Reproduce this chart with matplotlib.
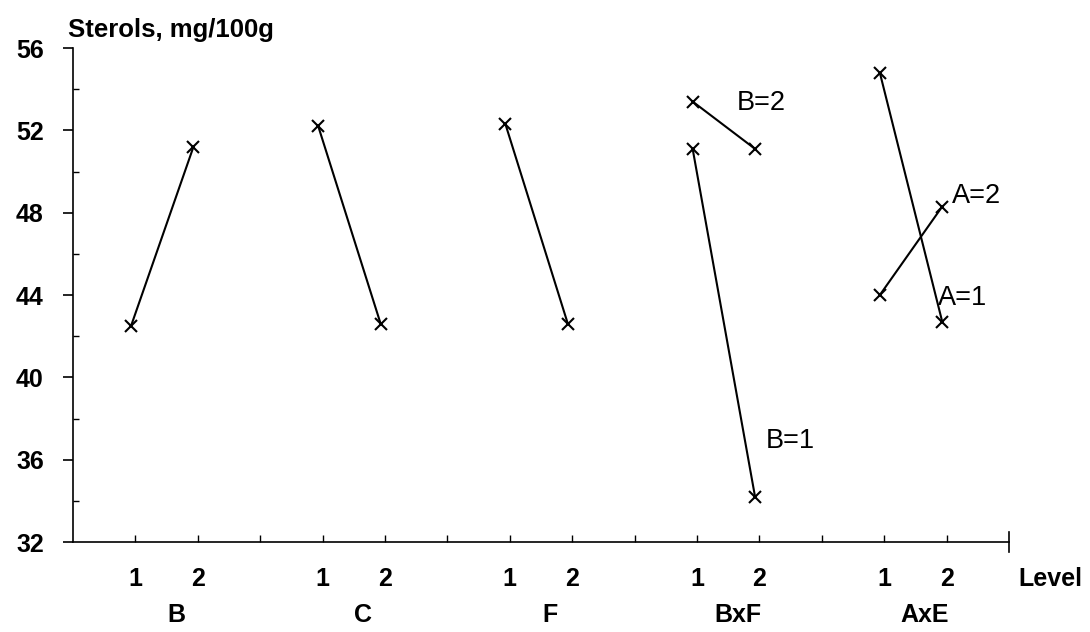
import matplotlib.pyplot as plt

# factor groups and their level means (Sterols, mg/100g)
groups = ['B', 'C', 'F', 'BxF', 'AxE']
levels = [1, 2]
b_vals = [42.5, 51.2]
c_vals = [52.2, 42.6]
f_vals = [52.3, 42.6]
bxf_b1 = [51.1, 34.2]
bxf_b2 = [53.4, 51.1]
axe_a1 = [54.8, 42.7]
axe_a2 = [44.0, 48.3]

plt.rcParams['font.family'] = ['Liberation Sans', 'DejaVu Sans']

fig = plt.figure(figsize=(10.9, 6.32), dpi=100)
ax = fig.add_axes([0.067, 0.1424, 0.8587, 0.7816])

step = 3      # group spacing on the x scale
shift = -0.07  # points sit a little left of the tick marks

def xs(gi):
    return [gi * step + lv + shift for lv in levels]

style = dict(color='black', lw=1.5, marker='x', ms=9, mew=1.5)
ax.plot(xs(0), b_vals, **style)
ax.plot(xs(1), c_vals, **style)
ax.plot(xs(2), f_vals, **style)
ax.plot(xs(3), bxf_b2, **style)
ax.plot(xs(3), bxf_b1, **style)
ax.plot(xs(4), axe_a1, **style)
ax.plot(xs(4), axe_a2, **style)

lab = dict(fontsize=19.5, va='center', ha='left')
ax.text(10.64, 53.35, 'B=2', **lab)
ax.text(11.1, 36.9, 'B=1', **lab)
ax.text(14.08, 48.8, 'A=2', **lab)
ax.text(13.86, 43.85, 'A=1', **lab)

ax.set_xlim(0, 15)
ax.set_ylim(32, 56)
for s in ['top', 'right']:
    ax.spines[s].set_visible(False)
ax.spines['left'].set_linewidth(1.2)
ax.spines['bottom'].set_linewidth(1.2)

# y axis
ax.set_yticks(range(32, 57, 4))
ax.set_yticks(range(34, 56, 4), minor=True)
ax.tick_params(axis='y', which='major', direction='out', length=7, width=1.2,
               pad=14, labelsize=18)
ax.tick_params(axis='y', which='minor', direction='in', length=4, width=1)
for t in ax.get_yticklabels():
    t.set_fontweight('bold')

# x axis: level labels under each group
pos = []
names = []
for gi in range(len(groups)):
    for lv in levels:
        pos.append(gi * step + lv)
        names.append(str(lv))
ax.set_xticks(pos)
ax.set_xticklabels(names, fontsize=18, fontweight='bold')
ax.set_xticks(range(3, 15, 3), minor=True)
ax.tick_params(axis='x', which='both', direction='in', length=5, width=1, pad=18)
ax.plot([15, 15], [-0.02, 0.02], color='black', lw=1.2,
        transform=ax.get_xaxis_transform(), clip_on=False)

trans = ax.get_xaxis_transform()
for gi, g in enumerate(groups):
    ax.text(gi * step + 1.65, -0.147, g, transform=trans, ha='center', va='center',
            fontsize=18, fontweight='bold')
ax.text(15.15, -0.075, 'Level', transform=trans, ha='left', va='center',
        fontsize=18, fontweight='bold')

ax.text(-0.08, 1.022, 'Sterols, mg/100g', transform=trans, ha='left',
        va='baseline', fontsize=18.5, fontweight='bold')

fig.savefig('out.png', dpi=100)
